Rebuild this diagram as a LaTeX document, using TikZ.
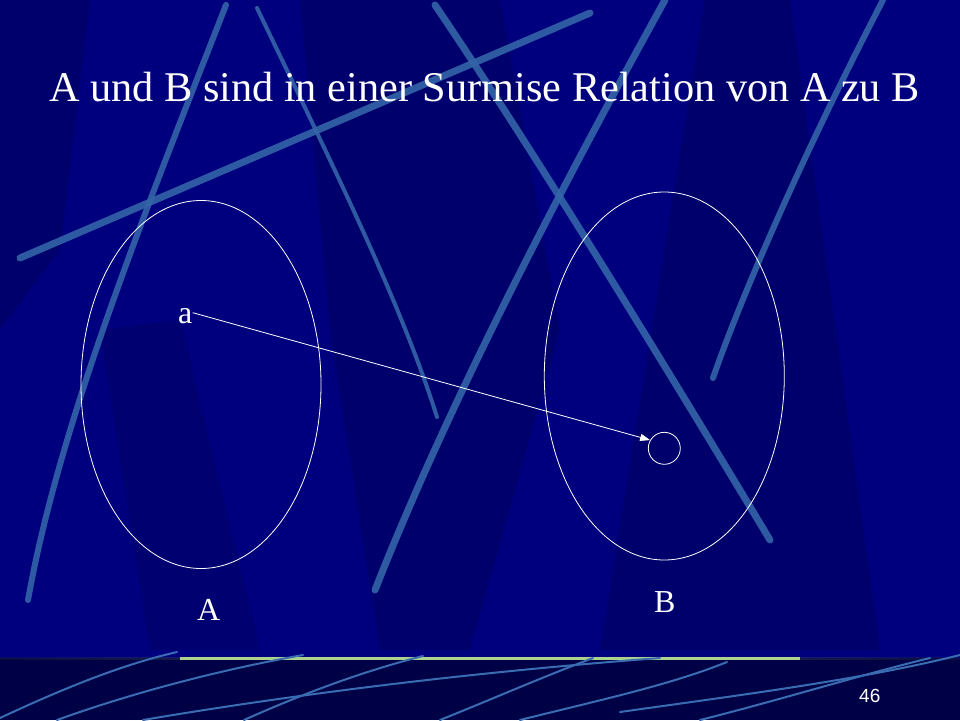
\documentclass[tikz,border=0pt]{standalone}
\usepackage{fontspec}
\setmainfont{Liberation Serif}
\newfontfamily\numfont{Liberation Sans}
\usetikzlibrary{arrows.meta,shapes.geometric}
\definecolor{navy}{RGB}{0,0,126}
\definecolor{deepnavy}{RGB}{0,0,70}
\definecolor{streak}{RGB}{52,100,168}
\definecolor{bstreak}{RGB}{58,108,178}
\definecolor{hgreen}{RGB}{172,210,140}
\definecolor{hgray}{RGB}{80,96,110}
\begin{document}
\begin{tikzpicture}[x=1pt,y=-1pt,
  shade/.style={fill=black,opacity=0.13},
  bigstreak/.style={draw=streak,line width=7pt,line cap=round,opacity=0.9},
  thinstreak/.style={draw=bstreak,line width=2pt,line cap=round},
  setshape/.style={draw=white,ellipse,line width=0.8pt,minimum width=240pt,minimum height=368pt,inner sep=0pt},
  label/.style={text=white,inner sep=0pt,anchor=base west,font=\fontsize{32}{36}\selectfont}]
\useasboundingbox (0,0) rectangle (960,720);
% background
\fill[navy] (0,0) rectangle (960,658);
\fill[shade] (0,0) -- (90,0) -- (60,250) -- (0,330) -- cycle;
\fill[shade] (300,0) -- (500,0) -- (560,330) -- (470,650) -- (380,650) -- (330,330) -- cycle;
\fill[shade] (705,0) -- (790,0) -- (880,650) -- (600,650) -- cycle;
\fill[shade,opacity=0.1] (100,330) -- (180,320) -- (260,650) -- (150,650) -- cycle;
% streaks
\path[bigstreak] (20,258) -- (590,13);
\path[bigstreak,line width=6pt] (226,5) .. controls (150,200) and (60,420) .. (28,600);
\path[bigstreak,line width=4pt] (257,8) .. controls (330,160) and (400,300) .. (437,417);
\path[bigstreak] (435,5) .. controls (520,130) and (650,340) .. (770,540);
\path[bigstreak] (665,0) .. controls (560,190) and (450,400) .. (375,590);
\path[bigstreak,line width=6pt] (883,0) .. controls (800,160) and (740,300) .. (713,378);
% bottom band
\fill[deepnavy] (0,658) rectangle (960,720);
\shade[left color=hgray,right color=hgreen] (0,657) rectangle (180,659.5);
\fill[hgreen] (180,657) rectangle (800,659.5);
\shade[left color=hgreen,right color=hgray] (800,657) rectangle (960,659.5);
\path[thinstreak] (0,718) .. controls (60,690) and (120,665) .. (177,652);
\path[thinstreak] (57,720) .. controls (140,690) and (230,668) .. (303,655);
\path[thinstreak] (143,720) .. controls (320,690) and (500,670) .. (660,658);
\path[thinstreak] (244,720) .. controls (300,695) and (360,672) .. (423,656);
\path[thinstreak] (440,720) .. controls (490,700) and (540,678) .. (593,658);
\path[thinstreak] (520,720) .. controls (600,700) and (670,685) .. (727,662);
\path[thinstreak] (620,712) .. controls (740,695) and (860,680) .. (960,655);
\path[thinstreak] (700,720) .. controls (780,700) and (860,675) .. (930,658);
% title
\node[text=white,inner sep=0pt,anchor=base west,font=\fontsize{42.3}{48}\selectfont] (title) at (49,101.7) {A und B sind in einer Surmise Relation von A zu B};
% sets
\node[setshape] (setA) at (201,384.5) {};
\node[setshape] (setB) at (664.3,376) {};
\node[draw=white,circle,line width=0.8pt,minimum size=32pt,inner sep=0pt] (c) at (664.3,448.3) {};
\node[label] (a) at (178,323) {a};
\node[label] (lA) at (197,620) {A};
\node[label] (lB) at (654,612) {B};
\draw[white,line width=0.8pt,-{Triangle[length=10pt,width=7pt]}] ([yshift=3pt]a.east) -- (c.150);
\node[text=white,inner sep=0pt,anchor=base west,font=\numfont\fontsize{19}{22}\selectfont] (num) at (859,702) {46};
\end{tikzpicture}
\end{document}
